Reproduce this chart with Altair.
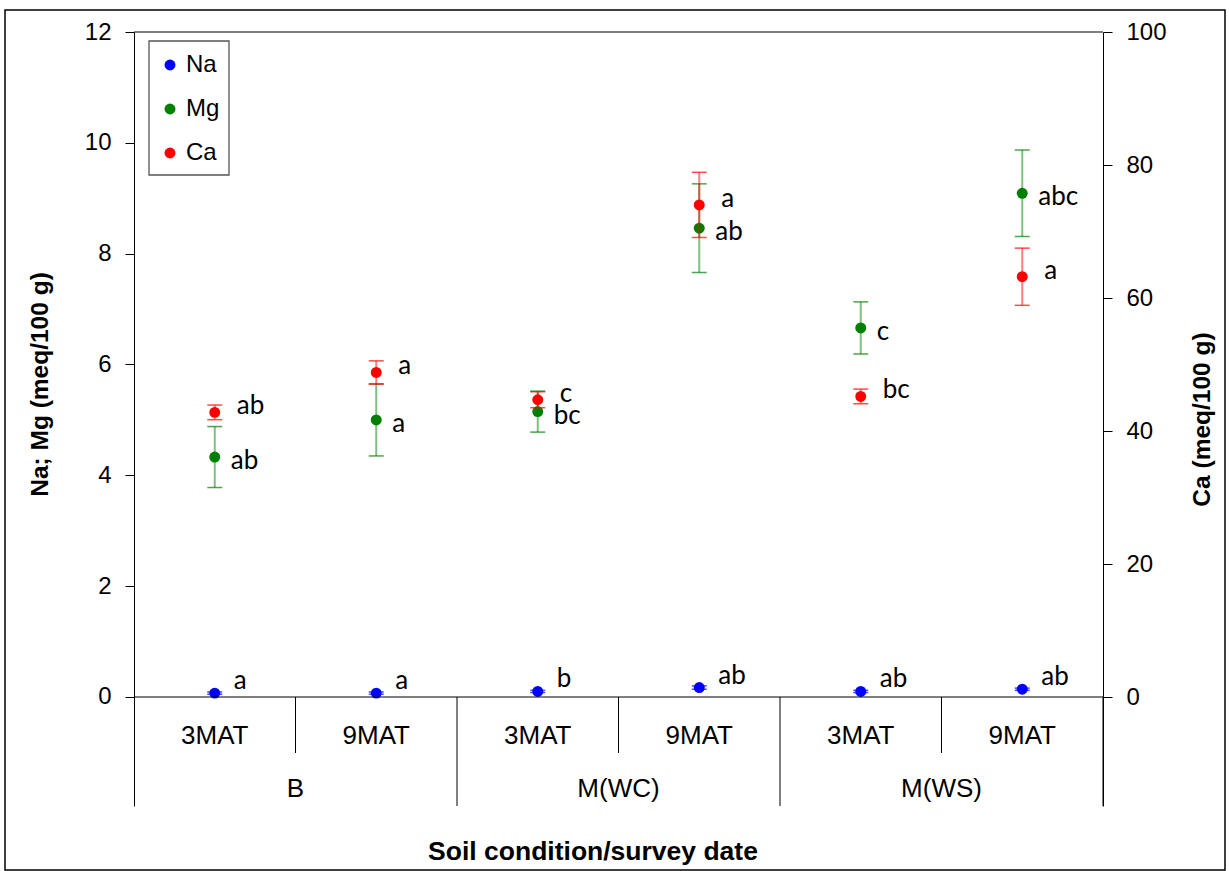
import altair as alt
import pandas as pd

# ---------------- data ----------------
dates = ["3MAT", "9MAT", "3MAT", "9MAT", "3MAT", "9MAT"]
groups = ["B", "M(WC)", "M(WS)"]

na_mean = [0.07, 0.07, 0.10, 0.17, 0.10, 0.14]
na_err = [0.02, 0.02, 0.02, 0.03, 0.02, 0.02]
na_labels = ["a", "a", "b", "ab", "ab", "ab"]

mg_mean = [4.33, 5.00, 5.15, 8.46, 6.66, 9.09]
mg_err = [0.55, 0.65, 0.37, 0.80, 0.47, 0.78]
mg_labels = ["ab", "a", "bc", "ab", "c", "abc"]

ca_mean = [42.8, 48.8, 44.7, 74.0, 45.2, 63.2]
ca_err = [1.1, 1.75, 1.2, 4.9, 1.1, 4.3]
ca_labels = ["ab", "a", "c", "a", "bc", "a"]

series_names = ["Na", "Mg", "Ca"]
series_colors = ["#0000FF", "#008000", "#FF0000"]

left_ticks = [0, 2, 4, 6, 8, 10, 12]
right_ticks = [0, 20, 40, 60, 80, 100]

# ---------------- tables ----------------
def build(name, means, errs, labels):
    return pd.DataFrame({
        "series": [name] * len(means),
        "pos": [i + 0.5 for i in range(len(means))],
        "mean": means,
        "lo": [m - e for m, e in zip(means, errs)],
        "hi": [m + e for m, e in zip(means, errs)],
        "label": labels,
    })

na_df = build("Na", na_mean, na_err, na_labels)
mg_df = build("Mg", mg_mean, mg_err, mg_labels)
left_df = pd.concat([na_df, mg_df], ignore_index=True)
ca_df = build("Ca", ca_mean, ca_err, ca_labels)

cat_df = pd.DataFrame({"pos": [i + 0.5 for i in range(len(dates))], "cat": dates})
grp_df = pd.DataFrame({"pos": [2 * i + 1 for i in range(len(groups))], "grp": groups})
short_sep = pd.DataFrame({"b": [1, 3, 5]})
long_sep = pd.DataFrame({"b": [2, 4, 6]})
hlines = pd.DataFrame({"x0": [0, 0], "x1": [6, 6], "yv": [0, 12]})
one = pd.DataFrame({"k": [0]})
legend_df = pd.DataFrame({"series": series_names})

W, H = 969, 774
YL = [-1.967, 12]
YR = [-16.39, 100]
FONT = "Liberation Sans"

xs = alt.Scale(domain=[0, 6], nice=False, zero=False)
cs = alt.Scale(domain=series_names, range=series_colors)


def yl():
    return alt.Scale(domain=YL, nice=False, zero=False)


def yr():
    return alt.Scale(domain=YR, nice=False, zero=False)


X = alt.X("pos:Q", scale=xs, axis=None)
COLOR = alt.Color("series:N", scale=cs, legend=None)

left_axis = alt.Axis(values=left_ticks, grid=False, domainColor="black", tickColor="black",
                     tickSize=9, labelFontSize=24, labelFont=FONT, labelColor="black",
                     labelPadding=14, labelFlush=False, labelOverlap=False,
                     title="Na; Mg (meq/100 g)", titleFont=FONT, titleFontWeight="bold",
                     titleFontSize=24.5, titleColor="black", titlePadding=32, titleY=352)
right_axis = alt.Axis(orient="right", values=right_ticks, grid=False, domainColor="black",
                      tickColor="black", tickSize=9, labelFontSize=24, labelFont=FONT,
                      labelColor="black", labelPadding=14, labelFlush=False, labelOverlap=False,
                      title="Ca (meq/100 g)", titleFont=FONT, titleFontWeight="bold",
                      titleFontSize=24.5, titleColor="black", titleAngle=270,
                      titleBaseline="top", titlePadding=24)

layers = []

# axis carriers (invisible marks carrying each y axis)
layers.append(alt.Chart(left_df).mark_point(opacity=0).encode(
    x=X, y=alt.Y("mean:Q", scale=yl(), axis=left_axis)))
layers.append(alt.Chart(ca_df).mark_point(opacity=0).encode(
    x=X, y=alt.Y("mean:Q", scale=yr(), axis=right_axis)))


def series_layers(df, ysc):
    base = alt.Chart(df)
    rule = base.mark_rule(strokeWidth=2, opacity=0.5).encode(
        x=X, y=alt.Y("lo:Q", scale=ysc(), axis=None), y2="hi:Q", color=COLOR)
    cap_lo = base.mark_tick(orient="horizontal", size=15, thickness=1.5).encode(
        x=X, y=alt.Y("lo:Q", scale=ysc(), axis=None), color=COLOR)
    cap_hi = base.mark_tick(orient="horizontal", size=15, thickness=1.5).encode(
        x=X, y=alt.Y("hi:Q", scale=ysc(), axis=None), color=COLOR)
    pts = base.mark_circle(size=120, opacity=1).encode(
        x=X, y=alt.Y("mean:Q", scale=ysc(), axis=None), color=COLOR)
    return [rule, cap_lo, cap_hi, pts]


layers += series_layers(left_df, yl)
layers += series_layers(ca_df, yr)

txt_style = dict(align="left", baseline="middle", font="Lato", fontSize=26, color="black")
layers.append(alt.Chart(na_df).mark_text(dx=19, dy=-12, **txt_style).encode(
    x=X, y=alt.Y("mean:Q", scale=yl(), axis=None), text="label:N"))
layers.append(alt.Chart(mg_df).mark_text(dx=16, dy=4, **txt_style).encode(
    x=X, y=alt.Y("mean:Q", scale=yl(), axis=None), text="label:N"))
layers.append(alt.Chart(ca_df).mark_text(dx=22, dy=-6, **txt_style).encode(
    x=X, y=alt.Y("mean:Q", scale=yr(), axis=None), text="label:N"))

# legend (box, symbols, labels) in the upper-left corner of the plot
layers.append(alt.Chart(one).mark_rect(fill="white", stroke="#555555", strokeWidth=1.3).encode(
    x=alt.value(15), x2=alt.value(95), y=alt.value(9), y2=alt.value(143)))
leg_y = alt.Y("series:N", scale=alt.Scale(domain=series_names, range=[33, 121], padding=0),
              axis=None)
layers.append(alt.Chart(legend_df).mark_circle(size=120, opacity=1).encode(
    x=alt.value(36), y=leg_y, color=COLOR))
layers.append(alt.Chart(legend_df).mark_text(align="left", baseline="middle", font=FONT,
                                             fontSize=24, color="black").encode(
    x=alt.value(52), y=leg_y, text="series:N"))

# decorations: plot lines, category table, x title, outer frame
layers.append(alt.Chart(hlines).mark_rule(color="black", strokeWidth=1.2).encode(
    x=alt.X("x0:Q", scale=xs, axis=None), x2="x1:Q",
    y=alt.Y("yv:Q", scale=yl(), axis=None)))
layers.append(alt.Chart(short_sep).mark_rule(color="black", strokeWidth=1).encode(
    x=alt.X("b:Q", scale=xs, axis=None), y=alt.value(665), y2=alt.value(721)))
layers.append(alt.Chart(long_sep).mark_rule(color="black", strokeWidth=1).encode(
    x=alt.X("b:Q", scale=xs, axis=None), y=alt.value(665), y2=alt.value(774)))
layers.append(alt.Chart(cat_df).mark_text(font=FONT, fontSize=26, color="black", baseline="middle").encode(
    x=alt.X("pos:Q", scale=xs, axis=None), y=alt.value(704), text="cat:N"))
layers.append(alt.Chart(grp_df).mark_text(font=FONT, fontSize=26, color="black", baseline="middle").encode(
    x=alt.X("pos:Q", scale=xs, axis=None), y=alt.value(757), text="grp:N"))
layers.append(alt.Chart(one).mark_text(font=FONT, fontSize=26.5, fontWeight="bold", color="black",
                                       baseline="middle", text="Soil condition/survey date").encode(
    x=alt.value(459), y=alt.value(820)))
layers.append(alt.Chart(one).mark_rect(fillOpacity=0, stroke="black", strokeWidth=1.5).encode(
    x=alt.value(-129), x2=alt.value(1091), y=alt.value(-22), y2=alt.value(838)))

chart = alt.layer(*layers).resolve_scale(y="independent").properties(
    width=W, height=H,
    padding={"left": 134, "top": 32, "right": 126, "bottom": 65},
    autosize=alt.AutoSizeParams(type="none"),
    background="white",
).configure_view(stroke=None)

chart.save("out.html", embed_options={"renderer": "svg", "actions": False})
